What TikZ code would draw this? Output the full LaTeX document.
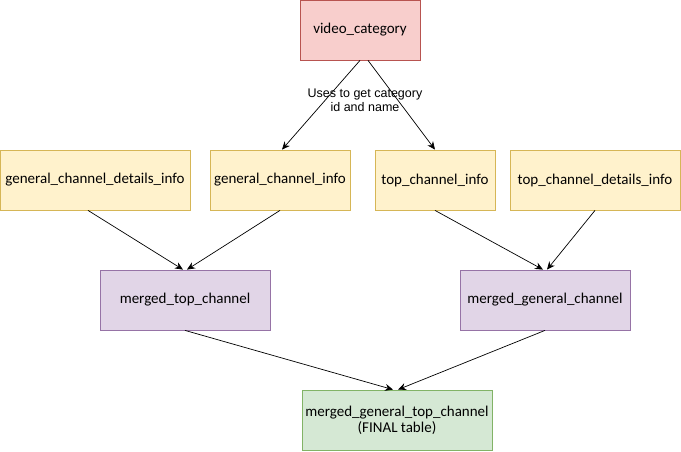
\documentclass[tikz,border=0pt]{standalone}
\usepackage{fontspec}
\setmainfont{Carlito}
\newfontfamily\labelfont{Liberation Sans}
\usetikzlibrary{arrows.meta}
\definecolor{redFill}{HTML}{F8CECC}
\definecolor{redLine}{HTML}{B85450}
\definecolor{yellowFill}{HTML}{FFF2CC}
\definecolor{yellowLine}{HTML}{D6B656}
\definecolor{purpleFill}{HTML}{E1D5E7}
\definecolor{purpleLine}{HTML}{9673A6}
\definecolor{greenFill}{HTML}{D5E8D4}
\definecolor{greenLine}{HTML}{82B366}
\tikzset{
	tablebox/.style={draw, line width=0.8pt, minimum height=60pt, inner sep=0pt, align=center, font=\fontsize{15}{16}\selectfont},
	sourcebox/.style={tablebox, fill=redFill, draw=redLine},
	infobox/.style={tablebox, fill=yellowFill, draw=yellowLine},
	mergebox/.style={tablebox, fill=purpleFill, draw=purpleLine},
	finalbox/.style={tablebox, fill=greenFill, draw=greenLine},
	flow/.style={-{Stealth[length=8pt, width=7pt]}, line width=0.7pt}
}

\begin{document}
\begin{tikzpicture}[x=1pt, y=-1pt]
\useasboundingbox (0,0) rectangle (681,451);

% Draw tables
\node[sourcebox, minimum width=120pt] (videoCat) at (360,30) {video\_category};
\node[infobox, minimum width=190pt] (genDetails) at (95,180) {general\_channel\_details\_info};
\node[infobox, minimum width=140pt] (genInfo) at (280,180) {general\_channel\_info};
\node[infobox, minimum width=120pt] (topInfo) at (435,180) {top\_channel\_info};
\node[infobox, minimum width=170pt] (topDetails) at (595,180) {top\_channel\_details\_info};
\node[mergebox, minimum width=170pt] (mergedTop) at (185,300) {merged\_top\_channel};
\node[mergebox, minimum width=170pt] (mergedGen) at (545,300) {merged\_general\_channel};
\node[finalbox, minimum width=190pt] (final) at (397,420) {merged\_general\_top\_channel\\(FINAL table)};

% Draw arrows
\draw[flow] ([xshift=0pt]videoCat.south) -- ([xshift=2pt]genInfo.north);
\draw[flow] ([xshift=8pt]videoCat.south) -- ([xshift=0pt]topInfo.north);
\node[font=\labelfont\fontsize{12.5}{14}\selectfont, align=center] (catLabel) at (365,100) {Uses to get category\\id and name};

\draw[flow] ([xshift=-7pt]genDetails.south) -- ([xshift=-2pt]mergedTop.north);
\draw[flow] (genInfo.south) -- ([xshift=2pt]mergedTop.north);
\draw[flow] (topInfo.south) -- ([xshift=-2pt]mergedGen.north);
\draw[flow] (topDetails.south) -- ([xshift=2pt]mergedGen.north);

\draw[flow] (mergedTop.south) -- ([xshift=-4pt]final.north);
\draw[flow] (mergedGen.south) -- ([xshift=1pt]final.north);
\end{tikzpicture}
\end{document}
